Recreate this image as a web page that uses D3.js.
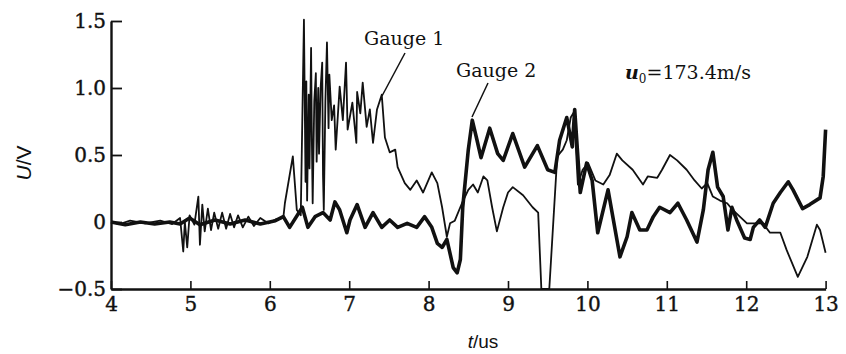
<!DOCTYPE html>
<html><head><meta charset="utf-8">
<script src="https://cdn.jsdelivr.net/npm/d3@7"></script>
<style>body{margin:0;background:#fff}svg{display:block}</style>
</head><body><div id="chart"></div>
<script>
const xTicks = [4,5,6,7,8,9,10,11,12,13];
const yTicks = [-0.5,0,0.5,1.0,1.5];
const yTickLabels = ["\u22120.5","0","0.5","1.0","1.5"];
const gauge1T = [4.00,4.11,4.24,4.43,4.62,4.77,4.87,4.91,4.93,4.96,4.99,5.05,5.10,5.12,5.15,5.18,5.22,5.26,5.30,5.35,5.40,5.45,5.50,5.55,5.60,5.66,5.73,5.80,5.88,5.98,6.08,6.17,6.19,6.29,6.34,6.39,6.43,6.45,6.46,6.47,6.49,6.50,6.52,6.53,6.54,6.56,6.58,6.59,6.61,6.62,6.64,6.66,6.67,6.68,6.70,6.72,6.74,6.75,6.78,6.81,6.83,6.88,6.92,6.96,6.98,7.04,7.09,7.10,7.14,7.17,7.22,7.26,7.30,7.35,7.41,7.45,7.51,7.58,7.61,7.70,7.77,7.85,7.93,8.04,8.11,8.17,8.23,8.27,8.33,8.42,8.50,8.56,8.62,8.69,8.74,8.80,8.86,8.94,9.00,9.06,9.19,9.31,9.38,9.42,9.52,9.62,9.69,9.74,9.79,9.83,9.88,9.94,10.01,10.10,10.20,10.28,10.37,10.44,10.57,10.70,10.76,10.88,10.94,11.04,11.13,11.25,11.35,11.44,11.51,11.58,11.67,11.76,11.83,11.92,12.01,12.14,12.21,12.30,12.43,12.51,12.65,12.77,12.89,12.93,13.00];
const gauge1V = [0,-0.015,0.01,-0.01,0.01,-0.015,0.03,-0.22,0,-0.19,0.05,-0.02,0.19,-0.17,0.13,-0.07,0.10,-0.06,0.07,-0.05,0.07,-0.05,0.06,-0.04,0.05,-0.04,0.04,-0.03,0.03,-0.01,0.02,0.03,0.14,0.49,0.09,0.05,1.51,0.30,1.05,0.16,0.95,0.40,1.30,0.60,0.14,0.90,1.11,0.45,1.00,0.51,1.00,1.19,0.35,0.09,0.90,1.34,0.70,1.10,0.76,0.87,0.54,1.01,0.76,1.19,0.69,0.89,0.59,0.97,0.81,1.04,0.71,0.84,0.59,0.84,0.95,0.63,0.52,0.54,0.41,0.29,0.24,0.31,0.22,0.37,0.29,0.11,-0.11,-0.01,0.01,0.14,0.24,0.28,0.22,0.34,0.31,0.11,-0.07,0.11,0.22,0.26,0.20,0.11,0.07,-0.5,-0.5,0.49,0.54,0.61,0.78,0.82,0.28,0.39,0.44,0.31,0.28,0.35,0.51,0.46,0.39,0.28,0.34,0.33,0.39,0.50,0.46,0.39,0.31,0.25,0.29,0.19,0.16,0.14,0.09,0.04,-0.01,-0.01,-0.01,-0.08,-0.08,-0.21,-0.41,-0.26,-0.02,-0.06,-0.23];
const gauge2T = [4.00,4.18,4.37,4.55,4.74,4.87,4.99,5.12,5.31,5.50,5.69,5.88,6.07,6.17,6.25,6.41,6.48,6.57,6.67,6.76,6.82,6.88,6.97,7.01,7.10,7.20,7.30,7.41,7.51,7.61,7.73,7.85,7.95,8.04,8.11,8.17,8.23,8.31,8.36,8.40,8.43,8.50,8.55,8.61,8.66,8.77,8.87,8.94,9.06,9.21,9.37,9.50,9.59,9.65,9.74,9.81,9.84,9.91,9.99,10.06,10.13,10.26,10.41,10.50,10.56,10.66,10.75,10.83,10.91,11.04,11.14,11.25,11.38,11.46,11.52,11.58,11.64,11.71,11.77,11.82,11.88,11.98,12.05,12.09,12.17,12.24,12.34,12.43,12.53,12.59,12.71,12.80,12.93,12.97,13.00];
const gauge2V = [0,-0.02,0,-0.015,0,-0.015,0.03,-0.02,0.015,-0.015,0.015,-0.015,0.01,0.04,-0.04,0.11,-0.04,0.04,0.07,0.015,0.15,0.09,-0.08,0.015,0.13,-0.04,0.07,-0.04,0.015,-0.04,-0.01,-0.04,0.04,-0.04,-0.16,-0.19,-0.13,-0.34,-0.38,-0.28,0.11,0.54,0.76,0.61,0.48,0.70,0.51,0.46,0.66,0.41,0.57,0.39,0.37,0.61,0.78,0.56,0.84,0.22,0.44,0.31,-0.08,0.24,-0.26,-0.11,0.07,-0.06,-0.06,0.04,0.11,0.07,0.14,0.015,-0.15,0.09,0.39,0.52,0.26,0.19,-0.06,0.11,0.015,-0.12,-0.13,-0.04,0.015,-0.04,0.14,0.22,0.30,0.24,0.10,0.13,0.18,0.34,0.69];

const W = 846, H = 354;
const svg = d3.select("#chart").append("svg").attr("width", W).attr("height", H);
const x = d3.scaleLinear().domain([4, 13]).range([111, 825.6]);
const y = d3.scaleLinear().domain([-0.5, 1.5]).range([289, 21]);

const serif = "'DejaVu Serif','Liberation Serif',serif";
const sans = "'Liberation Sans','DejaVu Sans',sans-serif";

const line = d3.line().x(d => x(d[0])).y(d => y(d[1]));
const g1 = gauge1T.map((t, i) => [t, gauge1V[i]]);
const g2 = gauge2T.map((t, i) => [t, gauge2V[i]]);

svg.append("path").datum(g1).attr("d", line).attr("fill", "none")
  .attr("stroke", "#111").attr("stroke-width", 1.8).attr("stroke-linejoin", "round");
svg.append("path").datum(g2).attr("d", line).attr("fill", "none")
  .attr("stroke", "#111").attr("stroke-width", 3.6).attr("stroke-linejoin", "round");

// axes
const xAxis = d3.axisBottom(x).tickValues(xTicks).tickSizeInner(-8).tickSizeOuter(0).tickPadding(12).tickFormat(d3.format("d"));
const gx = svg.append("g").attr("transform", `translate(0,${y(-0.5)})`).call(xAxis);
gx.select(".domain").attr("stroke", "#111").attr("stroke-width", 2.4);
gx.selectAll(".tick line").attr("stroke", "#111").attr("stroke-width", 1.6);
gx.selectAll("text").attr("font-family", serif).attr("font-size", 20).attr("fill", "#111")
  .attr("stroke", "#111").attr("stroke-width", 0.4).attr("dy", "0.5em");

const yAxis = d3.axisLeft(y).tickValues(yTicks).tickSizeInner(-11).tickSizeOuter(0).tickPadding(5)
  .tickFormat((d, i) => yTickLabels[i]);
const gy = svg.append("g").attr("transform", `translate(${x(4)},0)`).call(yAxis);
gy.select(".domain").attr("stroke", "#111").attr("stroke-width", 2.4);
gy.selectAll(".tick line").attr("stroke", "#111").attr("stroke-width", 1.8);
gy.selectAll("text").attr("font-family", serif).attr("font-size", 20).attr("fill", "#111")
  .attr("stroke", "#111").attr("stroke-width", 0.4);

// axis titles
const yl = svg.append("text").attr("transform", "translate(31,163) rotate(-90)")
  .attr("text-anchor", "middle").attr("font-family", sans).attr("font-size", 21).attr("fill", "#111");
yl.append("tspan").attr("font-style", "italic").text("U");
yl.append("tspan").text("/V");
const xl = svg.append("text").attr("x", 483).attr("y", 348)
  .attr("text-anchor", "middle").attr("font-family", sans).attr("font-size", 19).attr("fill", "#111");
xl.append("tspan").attr("font-style", "italic").text("t");
xl.append("tspan").text("/us");

// annotations
const annSize = 19;
svg.append("text").attr("x", 364).attr("y", 45).attr("font-family", serif).attr("font-size", annSize).attr("fill", "#111").text("Gauge 1");
svg.append("line").attr("x1", 405).attr("y1", 53).attr("x2", 382).attr("y2", 96).attr("stroke", "#111").attr("stroke-width", 1.5);
svg.append("text").attr("x", 456).attr("y", 77).attr("font-family", serif).attr("font-size", annSize).attr("fill", "#111").text("Gauge 2");
svg.append("line").attr("x1", 488).attr("y1", 83).attr("x2", 472).attr("y2", 117).attr("stroke", "#111").attr("stroke-width", 1.5);
const u = svg.append("text").attr("x", 625).attr("y", 79).attr("font-family", serif).attr("font-size", annSize).attr("fill", "#111");
u.append("tspan").attr("font-style", "italic").attr("font-weight", "bold").text("u");
u.append("tspan").attr("font-size", 12).attr("dy", 4).text("0");
u.append("tspan").attr("dy", -4).text("=173.4m/s");
</script></body></html>
